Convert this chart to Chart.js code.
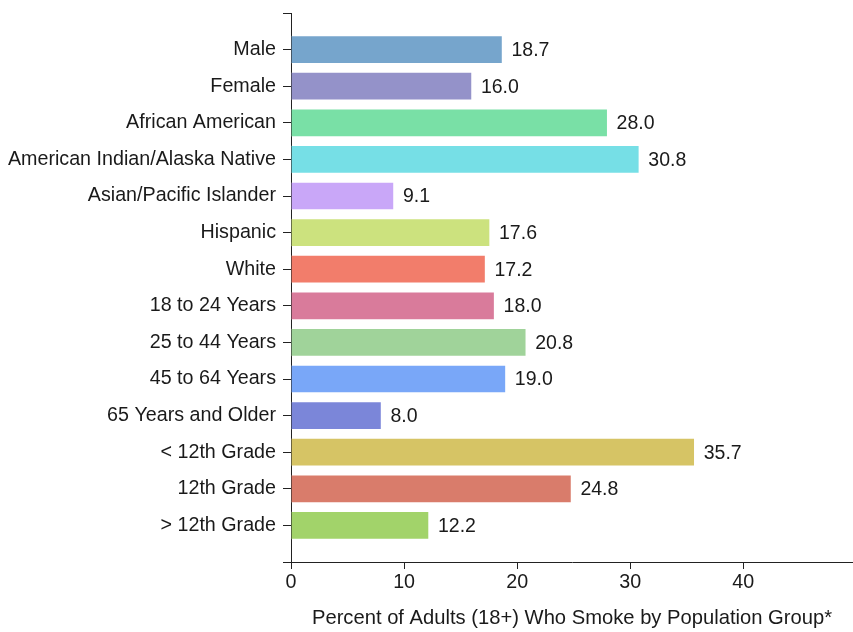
<!DOCTYPE html>
<html>
<head>
<meta charset="utf-8">
<script src="https://cdn.jsdelivr.net/npm/chart.js@4"></script>
<style>
  html, body { margin: 0; padding: 0; background: #fff; }
  #wrap { width: 853px; height: 632px; }
</style>
</head>
<body>
<div id="wrap"><canvas id="myChart"></canvas></div>
<script>
  const categories = ["Male","Female","African American","American Indian/Alaska Native","Asian/Pacific Islander","Hispanic","White","18 to 24 Years","25 to 44 Years","45 to 64 Years","65 Years and Older","< 12th Grade","12th Grade","> 12th Grade"];
  const values = [18.7, 16.0, 28.0, 30.8, 9.1, 17.6, 17.2, 18.0, 20.8, 19.0, 8.0, 35.7, 24.8, 12.2];
  const xTicks = [0, 10, 20, 30, 40];
  const barColors = ['#76a5cc','#9492c9','#79e0a6','#76dfe6','#c9a7f8','#cce27e','#f27d6b','#d97b9b','#a0d39a','#79a7f8','#7b86d9','#d6c465','#d97c6b','#a2d36a'];

  const font = { family: "'Liberation Sans', Arial, sans-serif", size: 19.7 };

  // value labels at the end of each bar
  const valueLabels = {
    id: 'valueLabels',
    afterDatasetsDraw(chart) {
      const ctx = chart.ctx;
      const meta = chart.getDatasetMeta(0);
      ctx.save();
      ctx.font = "19.5px 'Liberation Sans', Arial, sans-serif";
      ctx.fillStyle = '#1a1a1a';
      ctx.textAlign = 'left';
      ctx.textBaseline = 'middle';
      meta.data.forEach((bar, i) => {
        ctx.fillText(values[i].toFixed(1), bar.x + 9, bar.y + 1);
      });
      ctx.restore();
    }
  };

  const data = {
    datasets: [{
      data: values.map((v, i) => ({ x: v, y: i })),
      backgroundColor: barColors,
      borderColor: 'rgba(255,255,255,0.35)',
      borderWidth: 1,
      barThickness: 28
    }]
  };

  const config = {
    type: 'bar',
    data: data,
    options: {
      indexAxis: 'y',
      responsive: true,
      maintainAspectRatio: false,
      animation: false,
      layout: { padding: { top: 13, right: 0, bottom: 0, left: 0 } },
      plugins: { legend: { display: false }, tooltip: { enabled: false } },
      scales: {
        y: {
          type: 'linear',
          reverse: true,
          offset: false,
          min: -1,
          max: 14,
          afterBuildTicks: (s) => { s.ticks = []; for (let i = -1; i <= 14; i++) s.ticks.push({ value: i }); },
          afterFit: (s) => { s.width = 291; s.paddingTop = 0; s.paddingBottom = 0; },
          ticks: {
            autoSkip: false,
            padding: 7,
            color: '#1a1a1a',
            font: font,
            callback: (v) => categories[v] || ''
          },
          grid: { drawOnChartArea: false, offset: false, tickLength: 8, color: '#222' },
          border: { color: '#222', width: 1 }
        },
        x: {
          type: 'linear',
          min: 0,
          max: 49.7,
          afterBuildTicks: (s) => { s.ticks = xTicks.map(v => ({ value: v })); },
          afterFit: (s) => { s.height = 70; },
          ticks: { padding: 2, color: '#1a1a1a', font: font },
          grid: { drawOnChartArea: false, offset: false, tickLength: 7, color: '#222' },
          border: { color: '#222', width: 1 },
          title: {
            display: true,
            text: 'Percent of Adults (18+) Who Smoke by Population Group*',
            color: '#1a1a1a',
            font: { family: font.family, size: 20.2 },
            padding: { top: 4, bottom: 1 }
          }
        }
      }
    },
    plugins: [valueLabels]
  };

  const myChart = new Chart(
    document.getElementById('myChart'),
    config
  );
</script>
</body>
</html>
